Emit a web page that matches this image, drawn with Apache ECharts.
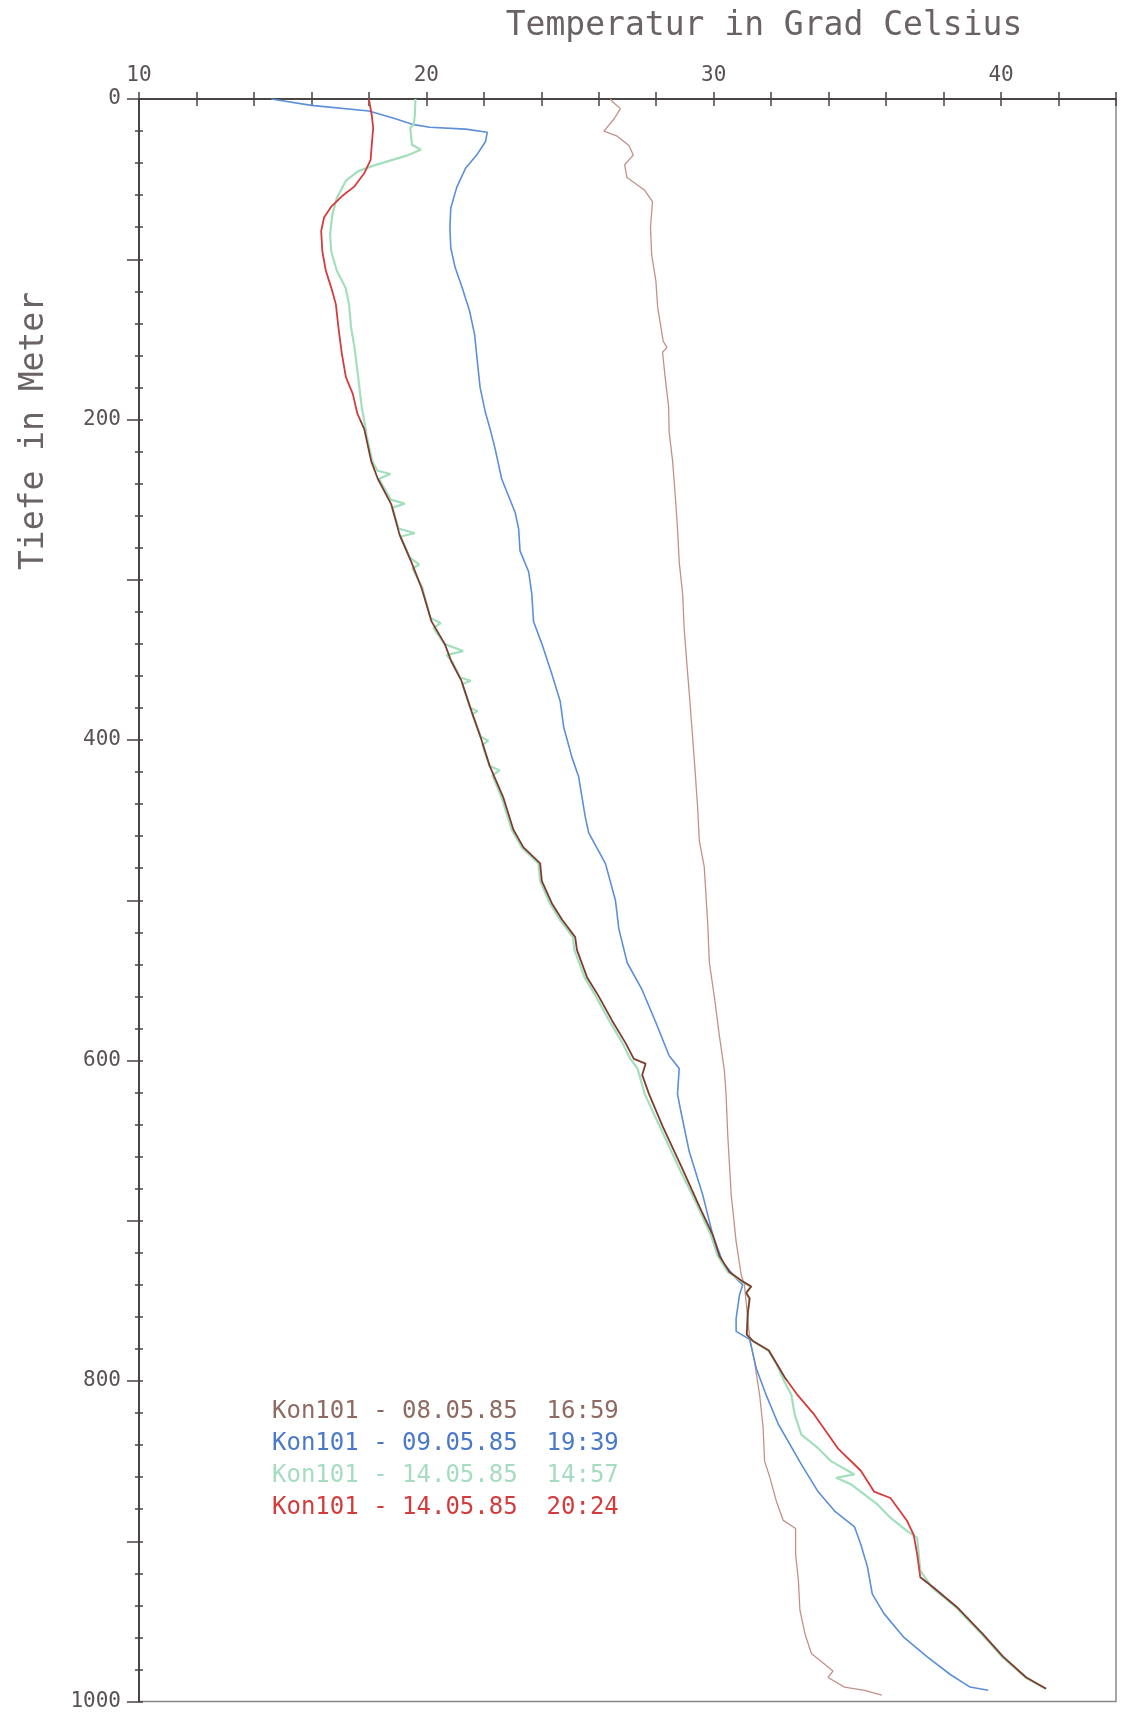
<!DOCTYPE html>
<html>
<head>
<meta charset="utf-8">
<script src="https://cdn.jsdelivr.net/npm/echarts@6/dist/echarts.min.js"></script>
<style>
  html, body { margin: 0; padding: 0; background: #ffffff; }
  #chart { width: 1123px; height: 1712px; }
</style>
</head>
<body>
<div id="chart"></div>
<script>
// ---- Data: [depth (m), temperature (°C)] ----
const seriesNames = [
  'Kon101 - 08.05.85  16:59',
  'Kon101 - 09.05.85  19:39',
  'Kon101 - 14.05.85  14:57',
  'Kon101 - 14.05.85  20:24'
];

const profile0805 = [
  [0,26.4],[2,26.5],[6,26.75],[12,26.55],[20,26.18],[23,26.62],[29,27.05],[35,27.2],[41,26.9],[49,26.98],
  [57,27.6],[64,27.87],[80,27.8],[97,27.84],[114,27.99],[130,28.05],[151,28.24],[155,28.37],[158,28.22],[172,28.3],
  [192,28.43],[208,28.45],[226,28.57],[247,28.66],[268,28.74],[289,28.8],[309,28.92],[330,28.97],[351,29.06],[371,29.15],
  [392,29.24],[411,29.32],[442,29.44],[463,29.5],[479,29.67],[514,29.79],[539,29.85],[560,30.02],[585,30.2],[606,30.37],
  [621,30.43],[647,30.49],[684,30.61],[713,30.78],[734,30.96],[740,31.07],[773,31.25],[788,31.42],[809,31.6],[829,31.72],
  [850,31.77],[860,31.95],[875,32.18],[887,32.42],[892,32.85],[908,32.85],[925,32.95],[943,33.0],[958,33.18],[970,33.4],
  [981,34.15],[985,33.98],[991,34.55],[993,35.25],[996,35.85]
];

const profile0905 = [
  [0,14.6],[4,16.0],[7.5,18.0],[12,18.87],[16,19.56],[17.6,20.12],[18.8,21.37],[20.7,22.12],[26.5,22.06],[35,21.75],
  [43,21.37],[55,21.06],[68,20.85],[80,20.82],[93,20.85],[105,21.0],[118,21.25],[132,21.5],[147,21.68],[163,21.77],
  [180,21.87],[196,22.06],[206,22.22],[218,22.39],[237,22.62],[258,23.09],[268,23.21],[282,23.26],[295,23.56],[309,23.67],
  [326,23.73],[340,24.02],[359,24.37],[376,24.66],[392,24.78],[411,25.07],[423,25.3],[448,25.53],[458,25.65],[477,26.23],
  [500,26.58],[518,26.7],[539,26.99],[556,27.51],[576,27.98],[597,28.45],[605,28.8],[621,28.74],[632,28.86],[657,29.15],
  [684,29.62],[709,29.97],[726,30.32],[736,30.78],[740,31.01],[746,30.9],[761,30.78],[769,30.78],[774,31.25],[792,31.48],
  [809,31.83],[827,32.25],[852,33.05],[869,33.63],[881,34.2],[891,34.9],[902,35.12],[916,35.35],[933,35.52],[945,35.92],
  [960,36.62],[972,37.42],[983,38.22],[991,38.92],[993,39.55]
];

const profile1405a = [
  [0,19.62],[10,19.6],[16,19.56],[18,19.44],[28.6,19.5],[31.7,19.81],[35,19.37],[41.4,18.19],[45,17.63],[51,17.2],
  [62,16.88],[72,16.73],[84.5,16.65],[95,16.69],[107,16.88],[118,17.19],[128,17.31],[142.5,17.38],[155,17.5],[174,17.63],
  [192,17.75],[205,17.88],[210,17.92],[226,18.12],[232,18.3],[234,18.75],[237,18.35],[250,18.76],[252.5,19.25],[255,18.82],
  [268,19.03],[271,19.6],[273,19.1],[286,19.42],[290.5,19.75],[293,19.52],[305,19.86],[324,20.15],[327,20.5],[330,20.25],
  [340,20.62],[344.5,21.28],[347,20.7],[351,20.9],[361,21.17],[363,21.55],[365,21.25],[380,21.53],[382,21.78],[384,21.6],
  [398,21.9],[400.5,22.15],[403,21.95],[416,22.2],[419,22.55],[422,22.3],[436,22.62],[456,22.97],[467,23.32],[477,23.9],
  [488,23.96],[502,24.3],[512,24.64],[523,25.1],[531,25.15],[548,25.5],[560,25.9],[575,26.36],[589,26.82],[599,27.1],
  [605,27.35],[621,27.6],[641,28.12],[668,28.82],[690,29.42],[709,29.9],[722,30.14],[732,30.5],[738,30.98],[741,31.28],
  [745,31.13],[748.5,31.25],[757,31.19],[771,31.15],[775,31.36],[781,31.9],[790,32.2],[800,32.45],[808.6,32.7],[821,32.82],
  [833.5,33.05],[841.7,33.62],[850,34.08],[858.3,34.9],[860.4,34.26],[864.5,34.78],[877,35.7],[885.3,36.15],[893.5,36.72],[897.7,37.08],
  [918.4,37.19],[929,37.6],[941,38.42],[958,39.33],[972,40.03],[985,40.85],[992,41.55]
];

const profile1405b = [
  [0,18.0],[10,18.1],[18,18.15],[28.6,18.1],[38,18.06],[46,17.85],[54.5,17.5],[60.7,17.06],[67,16.7],[74,16.44],
  [82.4,16.34],[95,16.38],[107,16.5],[117.7,16.69],[128,16.85],[142.5,16.94],[159,17.06],[173.6,17.2],[184,17.44],[196.4,17.6],
  [206,17.84],[226,18.08],[237,18.31],[253,18.78],[272,19.07],[289,19.48],[305,19.83],[326,20.18],[340,20.64],[351,20.87],
  [363,21.22],[382,21.57],[400,21.92],[416,22.2],[436,22.68],[456,23.03],[467,23.38],[477,23.96],[488,24.02],[502,24.37],
  [512,24.72],[523,25.18],[531,25.24],[548,25.59],[560,26.0],[575,26.46],[589,26.93],[599,27.22],[602,27.63],[609,27.51],
  [621,27.75],[641,28.22],[668,28.92],[691,29.5],[709,29.97],[722,30.2],[732,30.55],[738,31.02],[741,31.31],[745,31.13],
  [748.5,31.25],[757,31.19],[771,31.15],[775,31.36],[781,31.92],[798,32.48],[809,32.93],[821,33.5],[842,34.32],[856,35.12],
  [869,35.58],[873,36.15],[887,36.72],[896,36.96],[908,37.08],[922.5,37.19],[929,37.66],[941,38.46],[958,39.37],[972,40.07],
  [985,40.88],[992,41.57]
];

const xTickLabels = [10, 20, 30, 40];
const yTickLabels = [0, 200, 400, 600, 800, 1000];

// ---- Styling ----
const MONO = "'DejaVu Sans Mono', 'Liberation Mono', monospace";
const AXIS = '#4a4444';
const lineColors = ['#c0918a', '#5b8fd8', '#a3dfbd', '#d63a3a'];
const legendColors = ['#8e6a62', '#4a79c9', '#a6dcc0', '#d23c3c'];
const overlapColor = '#7e3d2e';

const toXY = arr => arr.map(p => [p[1], p[0]]);

const chart = echarts.init(document.getElementById('chart'), null, { renderer: 'canvas' });

const xBase = { type: 'value', position: 'top', min: 10, max: 44, interval: 2, gridIndex: 0, splitLine: { show: false } };
const yBase = { type: 'value', position: 'left', inverse: true, min: 0, max: 1000, gridIndex: 0, splitLine: { show: false } };

const option = {
  animation: false,
  backgroundColor: '#ffffff',
  grid: { left: 139, top: 99, width: 977, height: 1609, show: true, borderColor: '#8c8787', borderWidth: 1.5, backgroundColor: 'transparent' },
  xAxis: [
    Object.assign({}, xBase, {
      axisLine: { show: true, lineStyle: { color: AXIS, width: 2 } },
      axisTick: { show: true, length: 7, lineStyle: { color: AXIS, width: 1.5 } },
      axisLabel: {
        show: true, margin: 13, fontFamily: MONO, fontSize: 21, color: '#5a5252',
        formatter: v => (xTickLabels.indexOf(v) >= 0 ? String(v) : '')
      }
    }),
    Object.assign({}, xBase, {
      axisLine: { show: false },
      axisTick: { show: true, inside: true, length: 7, lineStyle: { color: AXIS, width: 1.5 } },
      axisLabel: { show: false }
    })
  ],
  yAxis: [
    Object.assign({}, yBase, {
      interval: 20,
      axisLine: { show: true, lineStyle: { color: AXIS, width: 2 } },
      axisTick: { show: true, length: 4, lineStyle: { color: AXIS, width: 1.5 } },
      axisLabel: { show: false }
    }),
    Object.assign({}, yBase, {
      interval: 20,
      axisLine: { show: false },
      axisTick: { show: true, inside: true, length: 4, lineStyle: { color: AXIS, width: 1.5 } },
      axisLabel: { show: false }
    }),
    Object.assign({}, yBase, {
      interval: 100,
      axisLine: { show: false },
      axisTick: { show: true, length: 12, lineStyle: { color: AXIS, width: 1.5 } },
      axisLabel: {
        show: true, margin: 18, fontFamily: MONO, fontSize: 21, color: '#5a5252',
        padding: [0, 0, 12, 0],
        formatter: v => (yTickLabels.indexOf(v) >= 0 ? String(v) : '')
      }
    })
  ],
  legend: {
    orient: 'vertical',
    left: 262,
    top: 1395,
    itemWidth: 0,
    itemHeight: 0,
    itemGap: 8,
    selectedMode: false,
    textStyle: { fontFamily: MONO, fontSize: 24 },
    data: seriesNames.map((n, i) => ({ name: n, icon: 'none', textStyle: { color: legendColors[i] } }))
  },
  visualMap: [{
    type: 'piecewise',
    show: false,
    seriesIndex: 3,
    dimension: 1,
    pieces: [
      { lt: 200, color: lineColors[3] },
      { gte: 200, lt: 800, color: overlapColor },
      { gte: 800, lt: 922, color: lineColors[3] },
      { gte: 922, color: overlapColor }
    ]
  }],
  graphic: [
    {
      type: 'text', x: 764, y: 26,
      style: { text: 'Temperatur in Grad Celsius', fontFamily: MONO, fontSize: 33, fill: '#6b6363',
               align: 'center', verticalAlign: 'middle', textAlign: 'center', textVerticalAlign: 'middle' }
    },
    {
      type: 'text', x: 34, y: 431, rotation: Math.PI / 2,
      style: { text: 'Tiefe in Meter', fontFamily: MONO, fontSize: 33, fill: '#6b6363',
               align: 'center', verticalAlign: 'middle', textAlign: 'center', textVerticalAlign: 'middle' }
    }
  ],
  series: [
    { name: seriesNames[0], type: 'line', data: toXY(profile0805), showSymbol: false, symbol: 'none',
      lineStyle: { color: lineColors[0], width: 1.3 }, itemStyle: { color: lineColors[0] }, z: 2 },
    { name: seriesNames[1], type: 'line', data: toXY(profile0905), showSymbol: false, symbol: 'none',
      lineStyle: { color: lineColors[1], width: 1.6 }, itemStyle: { color: lineColors[1] }, z: 3 },
    { name: seriesNames[2], type: 'line', data: toXY(profile1405a), showSymbol: false, symbol: 'none',
      lineStyle: { color: lineColors[2], width: 2.2 }, itemStyle: { color: lineColors[2] }, z: 4 },
    { name: seriesNames[3], type: 'line', data: toXY(profile1405b), showSymbol: false, symbol: 'none',
      lineStyle: { width: 1.8 }, itemStyle: { color: lineColors[3] }, z: 5 }
  ]
};

chart.setOption(option);
</script>
</body>
</html>
